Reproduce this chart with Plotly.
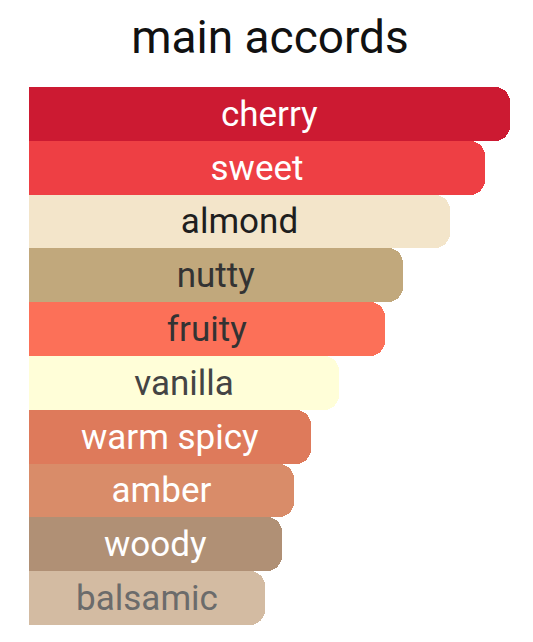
import plotly.graph_objects as go

# accords, top to bottom, with bar length in percent of the strongest one
accords = ["cherry", "sweet", "almond", "nutty", "fruity",
           "vanilla", "warm spicy", "amber", "woody", "balsamic"]
strength = [100, 94.8, 87.6, 77.8, 74.1, 64.5, 58.7, 55.0, 52.5, 49.0]
bar_colors = ["#CC1A32", "#EE3F44", "#F3E5CA", "#C1A87C", "#FC7058",
              "#FFFED8", "#DE7A5B", "#D98C69", "#B09075", "#D3BBA2"]
text_colors = ["#FFFFFF", "#FFFFFF", "#1E1E1E", "#333333", "#333333",
               "#444444", "#FFFFFF", "#FFFFFF", "#FFFFFF", "#6B6B6B"]

# the page body keeps its default 8px margin, so the figure is 8px smaller
W, H = 525, 634

fig = go.Figure(go.Bar(
    x=strength,
    y=accords,
    orientation="h",
    marker=dict(color=bar_colors, line=dict(width=0), cornerradius=15),
    text=accords,
    textposition="inside",
    insidetextanchor="middle",
    textangle=0,
    textfont=dict(family="Roboto", size=35, color=text_colors),
    hoverinfo="skip",
))

fig.update_layout(
    width=W,
    height=H,
    margin=dict(l=21, r=23, t=79, b=17),
    paper_bgcolor="white",
    plot_bgcolor="white",
    bargap=0,
    showlegend=False,
    uniformtext=dict(minsize=35, mode="show"),
    title=dict(text="main accords", x=(270 - 8) / W, xanchor="center",
               y=1 - 29 / H, yanchor="middle",
               font=dict(family="Roboto", size=46, color="#111111")),
    xaxis=dict(range=[0, 100], visible=False, fixedrange=True),
    yaxis=dict(autorange="reversed", visible=False, fixedrange=True),
)

fig.write_html("out.html")
